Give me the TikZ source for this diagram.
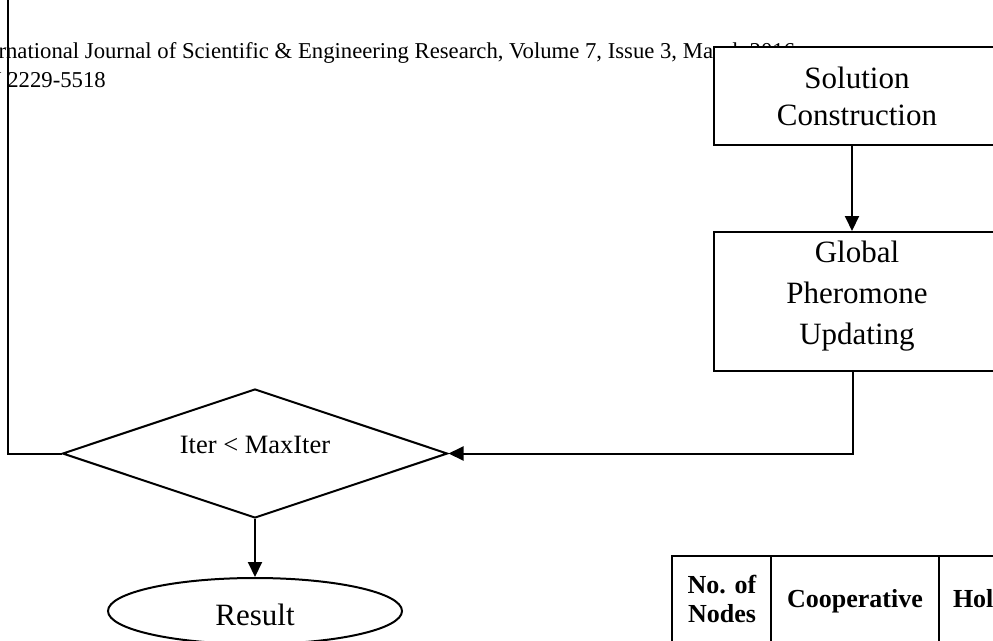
\documentclass[tikz,border=0pt]{standalone}
\usepackage{fontspec}
\setmainfont{Liberation Serif}
\usetikzlibrary{shapes.geometric,arrows.meta}
\begin{document}
\begin{tikzpicture}[x=1pt,y=-1pt,
  line width=2pt,
  box/.style={draw,fill=white,line width=2pt,minimum width=286pt,inner sep=0pt,align=center,font=\fontsize{31}{37}\selectfont},
  arr/.style={-{Triangle[length=15pt,width=14pt]},line width=2pt},
  hdr/.style={inner sep=0pt,font=\fontsize{22.7}{27}\selectfont},
  th/.style={inner sep=0pt,align=center,font=\bfseries\fontsize{26}{29}\selectfont},
  lbl/.style={inner sep=0pt}]
\useasboundingbox (0,0) rectangle (993,640);
\clip (0,0) rectangle (993,640);
% header
\node[hdr,anchor=base east] (h1a) at (714,58) {International Journal of Scientific \& Engineering Research, Volume 7, Issue 3, Ma};
\node[hdr,anchor=base west] (h1b) at (h1a.base east) {rch 2016};
\node[hdr,anchor=base west] (h2) at (-48.5,87) {ISSN 2229-5518};
% boxes
\node[box,minimum height=98pt] (sol) at (857,96) {Solution\\Construction};
\node[box,minimum height=139pt,font=\fontsize{31}{41}\selectfont] (glob) at (857,301.5) {Global\\Pheromone\\Updating\rule[-18pt]{0pt}{0pt}};
% decision
\node[draw,diamond,minimum width=385pt,minimum height=129pt,inner sep=0pt,aspect=3] (dia) at (255,453.5) {};
\node[lbl,font=\fontsize{26.5}{30}\selectfont] (dt) at ([yshift=9pt]dia.center) {Iter < MaxIter};
% result
\node[draw,ellipse,minimum width=294pt,minimum height=66pt,inner sep=0pt] (res) at (255,611) {};
\node[lbl,font=\fontsize{31}{37}\selectfont] (rt) at ([yshift=-3.5pt]res.center) {Result};
% connectors
\draw[arr] ([xshift=-5pt]sol.south) -- ([xshift=-5pt]glob.north);
\draw[arr] ([xshift=-4pt]glob.south) |- (dia.east);
\draw[arr] (dia.south) -- (res.north);
\coordinate (topend) at (8,-5);
\draw (dia.west) -- (dia.west -| topend) -- (topend);
% table
\draw (672,700) -- (672,556) -- (1000,556);
\draw (771,556) -- (771,700);
\draw (939,556) -- (939,700);
\node[th] (c1) at (722,598.5) {No. of\\Nodes};
\node[th,anchor=base] (c2) at (855,607) {Cooperative};
\node[th,anchor=base west] (c3) at (952,607) {Hol};
\end{tikzpicture}
\end{document}
